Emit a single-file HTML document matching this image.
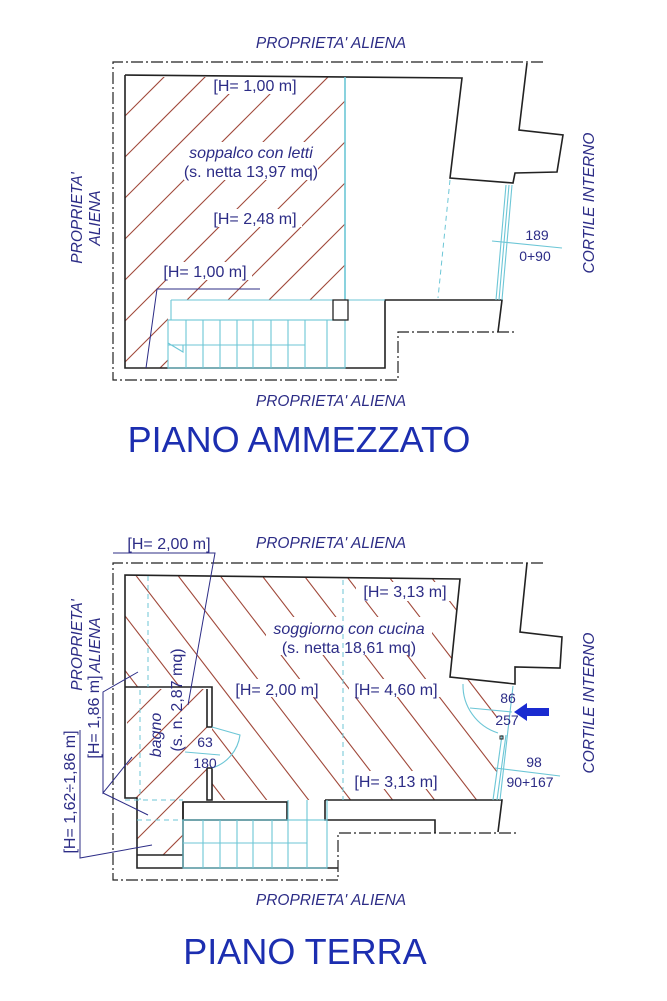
<!DOCTYPE html>
<html><head><meta charset="utf-8"><style>
html,body{margin:0;padding:0;background:#fff}
svg{display:block}
text{font-family:"Liberation Sans",sans-serif;fill:#2c2c86}
.it{font-style:italic}
.wall{fill:none;stroke:#222;stroke-width:1.6}
.dd{fill:none;stroke:#222;stroke-width:1.2;stroke-dasharray:12 3 2 3}
.cy{fill:none;stroke:#6cc6d6;stroke-width:1.1}
.cyd{fill:none;stroke:#6cc6d6;stroke-width:1;stroke-dasharray:5 4}
.h{stroke:#a0483a;stroke-width:1.1}
.ld{fill:none;stroke:#2c2c86;stroke-width:1}
</style></head><body>
<svg width="667" height="1001" viewBox="0 0 667 1001">
<defs>
<clipPath id="c1"><polygon points="125,77 345,77 345,300 168,300 168,368 125,368"/></clipPath>
<clipPath id="c2"><polygon points="125,576 460,579 450,677 497,684 497,800 183,800 183,802 212,802 212,687 125,687"/></clipPath>
<clipPath id="c3"><polygon points="127,689 207,689 207,798 183,798 183,855 137,855 137,798 127,798"/></clipPath>
</defs>

<!-- ===== TOP PLAN ===== -->
<text x="331" y="48" font-size="15.5" class="it" text-anchor="middle">PROPRIETA' ALIENA</text>
<text x="331" y="406" font-size="15.5" class="it" text-anchor="middle">PROPRIETA' ALIENA</text>
<text transform="translate(82,218) rotate(-90)" font-size="15.5" class="it" text-anchor="middle">PROPRIETA'</text>
<text transform="translate(100,218) rotate(-90)" font-size="15.5" class="it" text-anchor="middle">ALIENA</text>
<text transform="translate(594,203) rotate(-90)" font-size="15.5" class="it" text-anchor="middle">CORTILE INTERNO</text>

<polyline class="dd" points="543,62 113,62 113,380 398,380 398,332 517,332"/>

<g clip-path="url(#c1)">
<g class="h">
<line x1="60" y1="140" x2="180" y2="20"/><line x1="60" y1="181" x2="230" y2="11"/>
<line x1="60" y1="222" x2="270" y2="12"/><line x1="60" y1="263" x2="310" y2="13"/>
<line x1="60" y1="304" x2="350" y2="14"/><line x1="60" y1="345" x2="390" y2="15"/>
<line x1="60" y1="386" x2="430" y2="16"/><line x1="100" y1="387" x2="470" y2="17"/>
<line x1="140" y1="388" x2="510" y2="18"/><line x1="180" y1="389" x2="550" y2="19"/>
<line x1="220" y1="390" x2="590" y2="20"/><line x1="260" y1="391" x2="630" y2="21"/>
</g></g>
<rect x="208" y="76" width="94" height="18" fill="#fff"/>
<rect x="184" y="142" width="134" height="38" fill="#fff"/>
<rect x="208" y="209" width="94" height="18" fill="#fff"/>
<rect x="158" y="262" width="94" height="18" fill="#fff"/>

<polyline class="wall" points="125,75 462,78 450,178 513,183 515,173 557,172 563,135 519,130 527,63"/>
<polyline class="wall" points="125,75 125,368 385,368 385,300 502,300 498,332"/>

<line class="cy" x1="345" y1="77" x2="345" y2="300" style="stroke-width:1.6"/>
<line class="cy" x1="171" y1="300" x2="385" y2="300"/>
<rect class="cy" x="168" y="320" width="177" height="48"/>
<g class="cy">
<line x1="186" y1="320" x2="186" y2="368"/><line x1="203" y1="320" x2="203" y2="368"/>
<line x1="220" y1="320" x2="220" y2="368"/><line x1="237" y1="320" x2="237" y2="368"/>
<line x1="253" y1="320" x2="253" y2="368"/><line x1="271" y1="320" x2="271" y2="368"/>
<line x1="288" y1="320" x2="288" y2="368"/><line x1="305" y1="320" x2="305" y2="368"/>
<line x1="327" y1="320" x2="327" y2="368"/>
<line x1="168" y1="345" x2="305" y2="345"/>
<line x1="171" y1="300" x2="171" y2="320"/>
<polyline points="168,343 183,352 183,345"/>
</g>
<rect class="wall" x="333" y="300" width="15" height="20" style="stroke-width:1.3"/>
<line class="cyd" x1="450" y1="180" x2="438" y2="298"/>
<g class="cy"><line x1="506" y1="185" x2="496" y2="300"/><line x1="509" y1="185" x2="499" y2="300"/><line x1="512" y1="185" x2="502" y2="300"/></g>
<line class="cy" x1="492" y1="241" x2="562" y2="248"/>
<text x="537" y="240" font-size="14" text-anchor="middle">189</text>
<text x="535" y="261" font-size="14" text-anchor="middle">0+90</text>

<text x="255" y="91" font-size="16" text-anchor="middle">[H= 1,00 m]</text>
<text x="251" y="158" font-size="16" class="it" text-anchor="middle">soppalco con letti</text>
<text x="251" y="177" font-size="16" text-anchor="middle">(s. netta 13,97 mq)</text>
<text x="255" y="224" font-size="16" text-anchor="middle">[H= 2,48 m]</text>
<text x="205" y="277" font-size="16" text-anchor="middle">[H= 1,00 m]</text>
<polyline class="ld" points="260,289 157,289 146,368"/>

<text x="299" y="452" font-size="36" style="fill:#1c2eb0" text-anchor="middle">PIANO AMMEZZATO</text>

<!-- ===== BOTTOM PLAN ===== -->
<text x="331" y="548" font-size="15.5" class="it" text-anchor="middle">PROPRIETA' ALIENA</text>
<text x="331" y="905" font-size="15.5" class="it" text-anchor="middle">PROPRIETA' ALIENA</text>
<text transform="translate(82,645) rotate(-90)" font-size="15.5" class="it" text-anchor="middle">PROPRIETA'</text>
<text transform="translate(100,645) rotate(-90)" font-size="15.5" class="it" text-anchor="middle">ALIENA</text>
<text transform="translate(594,703) rotate(-90)" font-size="15.5" class="it" text-anchor="middle">CORTILE INTERNO</text>

<polyline class="dd" points="543,563 113,563 113,880 338,880 338,833 517,833"/>

<g clip-path="url(#c2)"><g class="h">
<line x1="40" y1="560" x2="240" y2="820"/><line x1="82" y1="560" x2="282" y2="820"/>
<line x1="124" y1="560" x2="324" y2="820"/><line x1="166" y1="560" x2="366" y2="820"/>
<line x1="208" y1="560" x2="408" y2="820"/><line x1="250" y1="560" x2="450" y2="820"/>
<line x1="292" y1="560" x2="492" y2="820"/><line x1="334" y1="560" x2="534" y2="820"/>
<line x1="376" y1="560" x2="576" y2="820"/><line x1="418" y1="560" x2="618" y2="820"/>
<line x1="0" y1="600" x2="200" y2="860"/><line x1="-42" y1="600" x2="158" y2="860"/>
</g></g>
<g clip-path="url(#c3)"><g class="h">
<line x1="110" y1="740" x2="220" y2="630"/><line x1="110" y1="782" x2="230" y2="662"/>
<line x1="110" y1="824" x2="230" y2="704"/><line x1="110" y1="866" x2="230" y2="746"/>
<line x1="130" y1="888" x2="230" y2="788"/>
</g></g>
<rect x="356" y="582" width="96" height="19" fill="#fff"/>
<rect x="266" y="617" width="166" height="38" fill="#fff"/>
<rect x="230" y="679" width="94" height="18" fill="#fff"/>
<rect x="349" y="679" width="94" height="18" fill="#fff"/>
<rect x="349" y="771" width="94" height="18" fill="#fff"/>

<polyline class="wall" points="125,687 125,575 460,579 450,677 515,684 515,667 560,668 562,637 520,632 527,563"/>
<polyline class="wall" points="125,687 212,687 212,727 207,727 207,689"/>
<polyline class="wall" points="125,687 125,798 137,798 137,868 338,868"/>
<polyline class="wall" points="207,768 212,768 212,800 207,800 207,768"/>
<polyline class="wall" points="137,855 183,855"/>
<line class="wall" x1="183" y1="802" x2="183" y2="868"/>
<rect class="wall" x="183" y="802" width="104" height="18"/>
<polyline class="wall" points="325,800 502,800 498,832"/>
<polyline class="wall" points="325,800 325,820 435,820 435,833"/>

<g class="cy">
<rect x="183" y="820" width="144" height="48"/>
<line x1="203" y1="820" x2="203" y2="868"/><line x1="220" y1="820" x2="220" y2="868"/>
<line x1="237" y1="820" x2="237" y2="868"/><line x1="253" y1="820" x2="253" y2="868"/>
<line x1="272" y1="820" x2="272" y2="868"/><line x1="288" y1="800" x2="288" y2="868"/>
<line x1="307" y1="800" x2="307" y2="868"/><line x1="327" y1="800" x2="327" y2="820"/>
<line x1="183" y1="843" x2="307" y2="843"/>
</g>
<line class="cyd" x1="343" y1="580" x2="343" y2="800"/>
<line class="cyd" x1="148" y1="576" x2="148" y2="687"/>
<line class="cyd" x1="140" y1="690" x2="140" y2="800"/>
<line class="cyd" x1="125" y1="800" x2="183" y2="800"/>
<line class="cyd" x1="137" y1="820" x2="183" y2="820"/>

<path class="cy" d="M212,768 A40,40 0 0 0 240,735 L212,727"/>
<path class="cy" d="M463,684 A50,50 0 0 0 498,733"/>
<g class="cy"><line x1="513" y1="686" x2="500" y2="800"/><line x1="502" y1="735" x2="493" y2="800"/><line x1="506" y1="735" x2="497" y2="800"/></g>
<rect x="500" y="736" width="3" height="3" fill="none" stroke="#222" stroke-width="1"/>
<line class="cy" x1="470" y1="708" x2="512" y2="712"/>
<text x="508" y="703" font-size="14" text-anchor="middle">86</text>
<text x="507" y="725" font-size="14" text-anchor="middle">257</text>
<polygon points="514,712 527,703 527,708 549,708 549,716 527,716 527,721" fill="#1a2bd0"/>
<line class="cy" x1="495" y1="768" x2="560" y2="776"/>
<text x="534" y="767" font-size="14" text-anchor="middle">98</text>
<text x="530" y="787" font-size="14" text-anchor="middle">90+167</text>
<line class="cy" x1="185" y1="752" x2="220" y2="755"/>
<text x="205" y="747" font-size="14" text-anchor="middle">63</text>
<text x="205" y="768" font-size="14" text-anchor="middle">180</text>

<text x="405" y="597" font-size="16" text-anchor="middle">[H= 3,13 m]</text>
<text x="349" y="634" font-size="16" class="it" text-anchor="middle">soggiorno con cucina</text>
<text x="349" y="653" font-size="16" text-anchor="middle">(s. netta 18,61 mq)</text>
<text x="277" y="695" font-size="16" text-anchor="middle">[H= 2,00 m]</text>
<text x="396" y="695" font-size="16" text-anchor="middle">[H= 4,60 m]</text>
<text x="396" y="787" font-size="16" text-anchor="middle">[H= 3,13 m]</text>
<text transform="translate(161,735) rotate(-90)" font-size="16" class="it" text-anchor="middle">bagno</text>
<text transform="translate(182,700) rotate(-90)" font-size="16" text-anchor="middle">(s. n. 2,87 mq)</text>

<text x="169" y="549" font-size="16" text-anchor="middle">[H= 2,00 m]</text>
<polyline class="ld" points="113,553 215,553 188,705"/>
<text transform="translate(99,717) rotate(-90)" font-size="16" text-anchor="middle">[H= 1,86 m]</text>
<polyline class="ld" points="138,672 103,692 103,793 132,757"/>
<line class="ld" x1="103" y1="793" x2="148" y2="815"/>
<text transform="translate(75,792) rotate(-90)" font-size="16" text-anchor="middle">[H= 1,62÷1,86 m]</text>
<polyline class="ld" points="80,730 80,858 152,845"/>

<text x="305" y="964" font-size="36" style="fill:#1c2eb0" text-anchor="middle">PIANO TERRA</text>
</svg>
</body></html>
